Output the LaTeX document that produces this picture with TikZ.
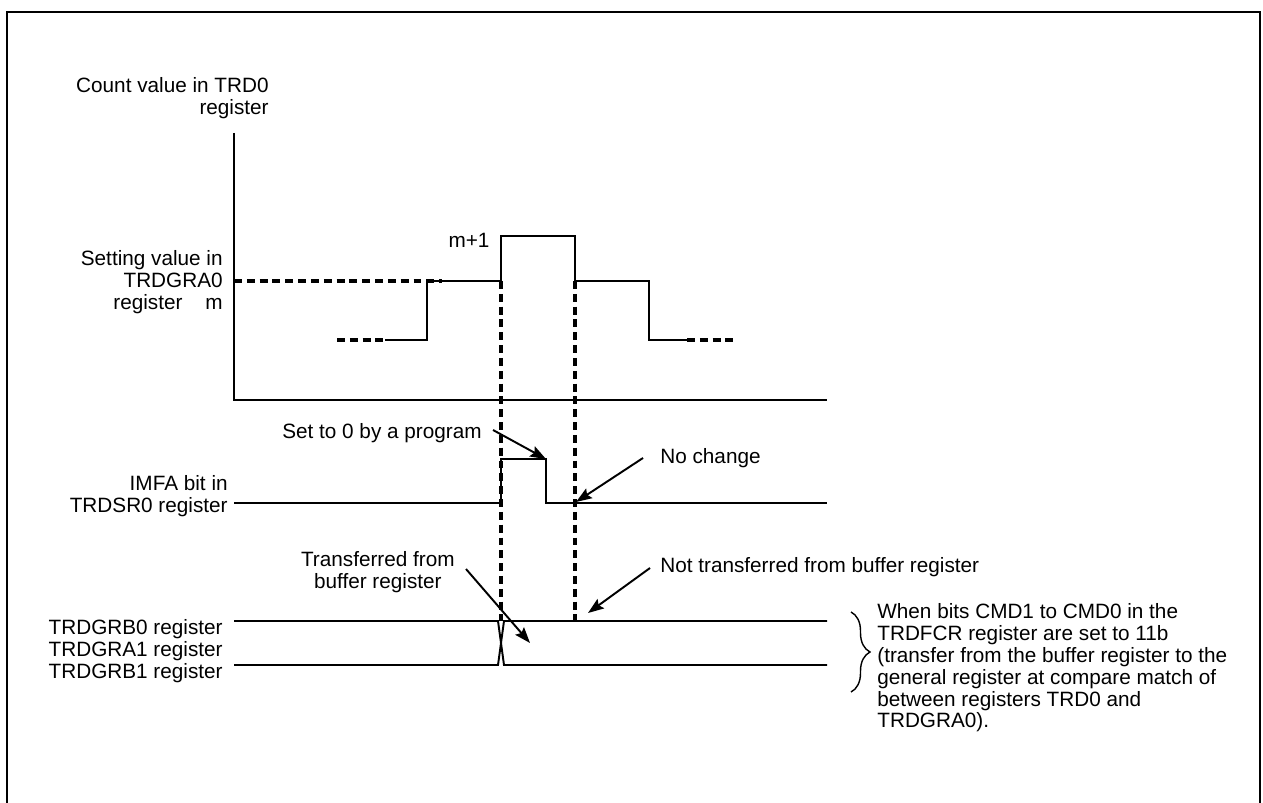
\documentclass[tikz,border=0pt]{standalone}
\usepackage{fontspec}
\setmainfont{Liberation Sans}
\usetikzlibrary{arrows.meta,decorations.pathreplacing}

\tikzset{
  lbl/.style={inner sep=0pt, font=\fontsize{11.8}{12.47}\selectfont},
  sig/.style={line width=1.1pt},
  guide/.style={line width=2pt, dash pattern=on 4.5pt off 2.8pt},
  ptr/.style={line width=1.1pt, -{Stealth[length=9pt,width=6.5pt,inset=1.5pt]}},
}

\begin{document}
\begin{tikzpicture}[x=0.02cm,y=-0.02cm]
    \useasboundingbox (0,0) rectangle (1263,803);

    % Outer frame
    \draw[line width=1.5pt] (7,803) -- (7,12) -- (1260,12) -- (1260,803);

    % Labels on the left
    \node[lbl, align=right, anchor=north east] (cntlbl) at (269,77) {Count value in TRD0\\register};
    \node[lbl, align=right, anchor=north east] (setlbl) at (223,250) {Setting value in\\TRDGRA0\\register\hspace{13pt}m};
    \node[lbl, align=right, anchor=north east] (imfalbl) at (228,475) {IMFA bit in\\TRDSR0 register};
    \node[lbl, align=left, anchor=north east] (reglbl) at (223,619) {TRDGRB0 register\\TRDGRA1 register\\TRDGRB1 register};

    % Axes of the counter
    \draw[sig] (234,133) -- (234,400) -- (827,400);

    % Count value
    \draw[guide] (234,281) -- (442,281);
    \draw[guide] (337,340) -- (385,340);
    \draw[sig] (385,340) -- (427,340) -- (427,281) -- (501,281) -- (501,236)
        -- (575,236) -- (575,281) -- (649,281) -- (649,340) -- (687,340);
    \draw[guide] (687,340) -- (733,340);
    \node[lbl, anchor=north] (mlbl) at (469,233) {m+1};

    % Compare match instants
    \draw[guide] (501,281) -- (501,621);
    \draw[guide] (575,281) -- (575,621);

    % IMFA bit
    \draw[sig] (234,503) -- (501,503) -- (501,459) -- (546,459) -- (546,503) -- (827,503);

    % Buffered registers
    \draw[sig] (234,621) -- (498,621) -- (504,665) -- (827,665);
    \draw[sig] (234,665) -- (498,665) -- (504,621) -- (827,621);

    % Brace and note
    \draw[line width=0.8pt, decorate, decoration={brace, amplitude=0.38cm}] (851,612) -- (851,692);
    \node[lbl, align=left, anchor=north west] (notelbl) at (877,603)
        {When bits CMD1 to CMD0 in the\\TRDFCR register are set to 11b\\(transfer from the buffer register to the\\general register at compare match of\\between registers TRD0 and\\TRDGRA0).};

    % Annotations with arrows
    \node[lbl, anchor=north east] (prglbl) at (482,423) {Set to 0 by a program};
    \node[lbl, anchor=north west] (nochglbl) at (660,448) {No change};
    \node[lbl, align=center, anchor=north east] (xferlbl) at (455,551) {Transferred from\\buffer register};
    \node[lbl, anchor=north west] (noxferlbl) at (660,557) {Not transferred from buffer register};

    \coordinate (prgA) at (493,430);
    \coordinate (prgB) at (546,459);
    \coordinate (nochgA) at (643,458);
    \coordinate (nochgB) at (576,502);
    \coordinate (xferA) at (466,569);
    \coordinate (xferB) at (530,643);
    \coordinate (noxferA) at (650,568);
    \coordinate (noxferB) at (588,613);

    \draw[ptr] (prgA) -- (prgB);
    \draw[ptr] (nochgA) -- (nochgB);
    \draw[ptr] (xferA) -- (xferB);
    \draw[ptr] (noxferA) -- (noxferB);
\end{tikzpicture}
\end{document}
